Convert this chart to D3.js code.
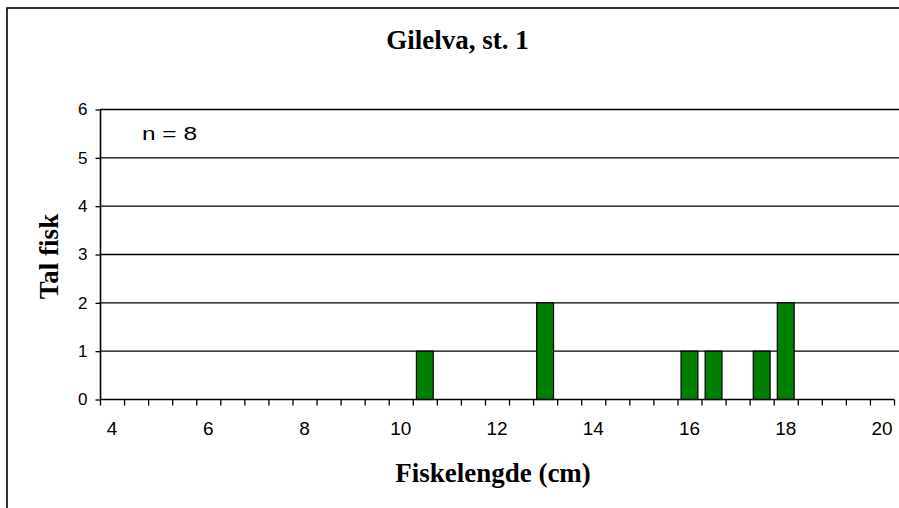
<!DOCTYPE html>
<html>
<head>
<meta charset="utf-8">
<script src="https://cdn.jsdelivr.net/npm/d3@7"></script>
<style>
html,body{margin:0;padding:0;background:#fff;}
svg{display:block;}
</style>
</head>
<body>
<svg id="chart" width="899" height="508"></svg>
<script>
// Data
const lengths = [4,4.5,5,5.5,6,6.5,7,7.5,8,8.5,9,9.5,10,10.5,11,11.5,12,12.5,13,13.5,14,14.5,15,15.5,16,16.5,17,17.5,18,18.5,19,19.5,20];
const counts  = [0,0,0,0,0,0,0,0,0,0,0,0,0,1,0,0,0,0,2,0,0,0,0,0,1,1,0,1,2,0,0,0,0];
const xTickLabels = [4,6,8,10,12,14,16,18,20];
const yTicks = [0,1,2,3,4,5,6];
const title = "Gilelva, st. 1";
const xTitle = "Fiskelengde (cm)";
const yTitle = "Tal fisk";
const note = "n = 8";

const svg = d3.select("#chart");
const pL = 100, pR = 894, pT = 109, pB = 399;
const serif = "Liberation Serif, Times New Roman, serif";
const sans = "Liberation Sans, Arial, sans-serif";

// frame
svg.append("rect").attr("x",7).attr("y",8).attr("width",1000).attr("height",1000)
  .attr("fill","none").attr("stroke","#000").attr("stroke-width",1.6);

const xb = d3.scaleBand().domain(lengths).range([pL,pR]);
const y = d3.scaleLinear().domain([0,6]).range([pB,pT]);

// gridlines
svg.append("g").selectAll("line").data(yTicks.filter(d=>d>0)).join("line")
  .attr("x1",pL).attr("x2",899).attr("y1",d=>y(d)+0.5).attr("y2",d=>y(d)+0.5)
  .attr("stroke","#000").attr("stroke-width",1.3);

// bars
svg.append("g").selectAll("rect").data(lengths.map((l,i)=>({l,c:counts[i]})).filter(d=>d.c>0)).join("rect")
  .attr("x",d=>xb(d.l)+xb.bandwidth()*0.15)
  .attr("width",xb.bandwidth()*0.7)
  .attr("y",d=>y(d.c)+0.5)
  .attr("height",d=>y(0)-y(d.c))
  .attr("fill","#008000").attr("stroke","#000").attr("stroke-width",1.2);

// y axis
const yAxis = d3.axisLeft(y).tickValues(yTicks).tickSize(5).tickPadding(8).tickFormat(d3.format("d"));
const gy = svg.append("g").attr("transform",`translate(${pL+0.5},0.5)`).call(yAxis);
gy.select(".domain").attr("stroke-width",1.6).attr("d",`M0,${pT}V${pB}`);
gy.selectAll(".tick line").attr("stroke-width",1.3);
gy.selectAll("text").attr("font-family",sans).attr("font-size",17).attr("fill","#000");

// x axis (category axis with ticks at boundaries)
const xAxis = d3.axisBottom(xb).tickValues(xTickLabels).tickSize(0).tickPadding(22).tickFormat(d=>d);
const gx = svg.append("g").attr("transform",`translate(0,${pB+0.5})`).call(xAxis);
gx.select(".domain").attr("stroke-width",1.6).attr("d",`M${pL},0H${pR}`);
gx.selectAll("text").attr("font-family",sans).attr("font-size",19).attr("fill","#000");
const bounds = lengths.map(l=>xb(l)).concat([pR]);
gx.append("g").selectAll("line").data(bounds).join("line")
  .attr("x1",d=>d+0.5).attr("x2",d=>d+0.5).attr("y1",0).attr("y2",6)
  .attr("stroke","#000").attr("stroke-width",1.3);

// texts
svg.append("text").attr("x",457.5).attr("y",49).attr("text-anchor","middle")
  .attr("font-family",serif).attr("font-weight","bold").attr("font-size",27)
  .text(title);
svg.append("text").attr("x",493).attr("y",482).attr("text-anchor","middle")
  .attr("font-family",serif).attr("font-weight","bold").attr("font-size",27)
  .text(xTitle);
svg.append("text").attr("transform",`translate(58,256.5) rotate(-90)`).attr("text-anchor","middle")
  .attr("font-family",serif).attr("font-weight","bold").attr("font-size",27)
  .text(yTitle);
svg.append("text").attr("x",142).attr("y",140)
  .attr("font-family",sans).attr("font-size",19)
  .attr("textLength",55).attr("lengthAdjust","spacingAndGlyphs")
  .text(note);
</script>
</body>
</html>
